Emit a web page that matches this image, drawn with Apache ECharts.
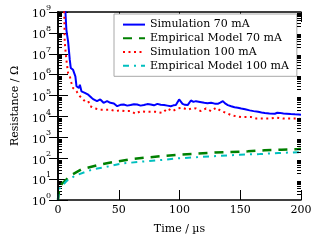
<!DOCTYPE html>
<html><head><meta charset="utf-8">
<script src="https://cdn.jsdelivr.net/npm/echarts@6/dist/echarts.min.js"></script>
<style>html,body{margin:0;padding:0;background:#fff}#c{width:320px;height:240px}</style>
</head><body><div id="c"></div>
<script>
const seriesNames = ['Simulation 70 mA', 'Empirical Model 70 mA', 'Simulation 100 mA', 'Empirical Model 100 mA'];
const xTicks = [0, 50, 100, 150, 200];
const yMajor = [1, 1e1, 1e2, 1e3, 1e4, 1e5, 1e6, 1e7, 1e8, 1e9];

const sim70Time = [5.5, 6.1, 6.9, 8.3, 9.7, 10.5, 12.4, 13.8, 14.3, 15.2, 17.2, 18, 19.3, 22.1, 24.9, 27.6, 29.3, 32.1, 34.8, 37.5, 40.4, 43.1, 46, 48.7, 51.5, 54.1, 57, 59.7, 62.5, 65.2, 68, 70.7, 73.5, 76.3, 79, 81.8, 84.5, 87.3, 90, 92.8, 95, 97, 99.7, 102.5, 104.5, 106.7, 109.4, 111.5, 113.5, 115, 118, 120.4, 123, 126, 129, 131.5, 133.5, 135.7, 137.5, 139.8, 142.5, 145.3, 148, 150.8, 154, 157.7, 161, 164.7, 167.5, 170.2, 174, 178.5, 180.5, 182.6, 185.5, 188.2, 191.5, 195, 198, 200];
const sim70Value = [2e9, 1e9, 1.4e8, 3.9e7, 5.1e6, 2.1e6, 1.7e6, 2.1e6, 8.3e5, 2.8e5, 2.3e5, 3.3e5, 1.6e5, 1.35e5, 1.1e5, 7.8e4, 6.5e4, 5.4e4, 6.5e4, 4.5e4, 5.4e4, 4.5e4, 4.2e4, 3.1e4, 3.6e4, 3.7e4, 3.3e4, 3.5e4, 3.8e4, 3.7e4, 3.3e4, 3.5e4, 3.9e4, 3.7e4, 3.4e4, 4.0e4, 3.6e4, 3.5e4, 3.3e4, 3.1e4, 3.4e4, 3.5e4, 6.5e4, 4.0e4, 3.6e4, 3.5e4, 5.8e4, 5.0e4, 5.4e4, 4.5e4, 4.8e4, 4.5e4, 4.3e4, 4.5e4, 4.1e4, 4.0e4, 4.6e4, 5.4e4, 4.2e4, 3.5e4, 3.1e4, 2.75e4, 2.6e4, 2.4e4, 2.2e4, 1.95e4, 1.8e4, 1.66e4, 1.55e4, 1.48e4, 1.4e4, 1.35e4, 1.5e4, 1.48e4, 1.38e4, 1.35e4, 1.3e4, 1.26e4, 1.25e4, 1.22e4];

const sim100Time = [4.8, 5.2, 5.5, 6.1, 6.9, 8.3, 9.7, 11.1, 12.4, 15.2, 18, 22.1, 24.9, 26.5, 30.6, 34.8, 38.9, 43.1, 47.2, 51.4, 55.5, 59.7, 63.8, 68, 72.1, 76.3, 80.4, 86, 90.1, 94.2, 98.4, 102.5, 106.7, 110.8, 113.5, 117.7, 121.8, 126, 130.1, 134.3, 138.4, 142.6, 146.7, 150.8, 155, 159.1, 163.3, 168.8, 174.3, 179.9, 185.4, 190.9, 196.4, 200];
const sim100Value = [2e9, 7e8, 4e7, 1.55e7, 5.1e6, 1.2e6, 8.3e5, 4e5, 2.3e5, 1.6e5, 9.3e4, 5.4e4, 5.4e4, 3.1e4, 2.4e4, 2.1e4, 2.1e4, 2.1e4, 1.8e4, 1.95e4, 1.8e4, 1.8e4, 1.35e4, 1.8e4, 1.66e4, 1.66e4, 1.66e4, 1.48e4, 2.4e4, 1.8e4, 2.4e4, 2.6e4, 2.1e4, 2.5e4, 2.4e4, 1.8e4, 2.4e4, 1.8e4, 2.6e4, 1.8e4, 1.48e4, 1.15e4, 1.02e4, 9.3e3, 9.3e3, 9.3e3, 7.9e3, 7.9e3, 7.9e3, 8.7e3, 7.9e3, 7.9e3, 7.9e3, 7.6e3];

const emp70Time = [0, 0.8, 1.7, 4.4, 7.2, 9.9, 19.6, 33.4, 45.8, 59.7, 72.1, 87.3, 99.7, 115, 128.8, 142.6, 156.4, 170.2, 184, 197.9, 200];
const emp70Value = [1, 2.75, 4.8, 7, 10, 14.5, 30, 48, 66, 89, 107, 129, 148, 166, 186, 200, 214, 240, 257, 275, 278];

const emp100Time = [0, 0.8, 7.2, 14, 22.4, 29.3, 37.5, 52.8, 69.4, 86, 99.7, 117.7, 132.9, 149.5, 166, 181.3, 197.9, 200];
const emp100Value = [1, 3.3, 8.3, 14.5, 22, 30, 36, 56, 69, 83, 100, 115, 129, 148, 158, 178, 195, 197];

const yMinor = [];
for (let e = 0; e < 9; e++) for (let m = 2; m <= 9; m++) yMinor.push(m * Math.pow(10, e));

const pairs = (t, v) => t.map((x, i) => [x, v[i]]);
const FONT = 'DejaVu Serif';

const chart = echarts.init(document.getElementById('c'), null, {renderer: 'canvas'});
const gridRect = {left: 58, right: 19, top: 12, bottom: 39};
const axisLine = {show: true, lineStyle: {color: '#000', width: 1.6}};
chart.setOption({
  animation: false,
  backgroundColor: '#fff',
  grid: [Object.assign({}, gridRect), Object.assign({}, gridRect)],
  legend: {
    left: 114, top: 14, orient: 'vertical',
    data: seriesNames,
    itemWidth: 22, itemHeight: 14, itemGap: 2.5,
    padding: [5, 8, 5, 8],
    backgroundColor: '#fff', borderColor: '#a8a8a8', borderWidth: 1,
    borderRadius: 0,
    itemStyle: {opacity: 0},
    textStyle: {fontFamily: FONT, fontSize: 11, color: '#000'}
  },
  xAxis: [
    {type: 'value', gridIndex: 0, position: 'bottom', min: 0, max: 200, interval: 50,
     name: 'Time / µs', nameLocation: 'middle', nameGap: 24,
     nameTextStyle: {fontFamily: FONT, fontSize: 11, color: '#000'},
     axisLine: axisLine, splitLine: {show: false},
     axisTick: {inside: true, length: 10, lineStyle: {color: '#000', width: 1}},
     axisLabel: {fontFamily: FONT, fontSize: 11, color: '#000', margin: 5,
       customValues: xTicks}},
    {type: 'value', gridIndex: 0, position: 'top', min: 0, max: 200, interval: 50,
     axisLine: axisLine, splitLine: {show: false},
     axisTick: {inside: true, length: 10, lineStyle: {color: '#000', width: 1}},
     axisLabel: {show: false}},
    {type: 'value', gridIndex: 1, min: 0, max: 200, show: false}
  ],
  yAxis: [
    {type: 'log', gridIndex: 0, position: 'left', min: 1, max: 1e9, logBase: 10,
     name: 'Resistance / Ω', nameLocation: 'middle', nameGap: 33, nameRotate: 90,
     nameTextStyle: {fontFamily: FONT, fontSize: 11, color: '#000'},
     axisLine: axisLine, splitLine: {show: false},
     axisTick: {inside: true, length: 10, customValues: yMajor, lineStyle: {color: '#000', width: 1}},
     axisLabel: {margin: 7, customValues: yMajor,
       formatter: v => '{b|10}{s|' + Math.round(Math.log10(v)) + '}',
       rich: {
         b: {fontFamily: FONT, fontSize: 11, color: '#000', lineHeight: 16, verticalAlign: 'bottom'},
         s: {fontFamily: FONT, fontSize: 8, color: '#000', lineHeight: 10, verticalAlign: 'top'}
       }}},
    {type: 'log', gridIndex: 0, position: 'right', min: 1, max: 1e9, logBase: 10, z: 10,
     axisLine: axisLine, splitLine: {show: false},
     axisTick: {inside: true, length: 9, customValues: yMajor, lineStyle: {color: '#000', width: 1}},
     axisLabel: {show: false}},
    {type: 'log', gridIndex: 1, position: 'left', min: 1, max: 1e9, logBase: 10,
     axisLine: {show: false}, splitLine: {show: false},
     axisTick: {inside: true, length: 4, customValues: yMinor, lineStyle: {color: '#000', width: 1}},
     axisLabel: {show: false}},
    {type: 'log', gridIndex: 1, position: 'right', min: 1, max: 1e9, logBase: 10, z: 10,
     axisLine: {show: false}, splitLine: {show: false},
     axisTick: {inside: true, length: 4, customValues: yMinor, lineStyle: {color: '#000', width: 1}},
     axisLabel: {show: false}}
  ],
  series: [
    {name: seriesNames[0], type: 'line', xAxisIndex: 0, yAxisIndex: 0, showSymbol: false, symbol: 'none',
     data: pairs(sim70Time, sim70Value), color: '#0000ff',
     lineStyle: {color: '#0000ff', width: 2}},
    {name: seriesNames[1], type: 'line', xAxisIndex: 0, yAxisIndex: 0, showSymbol: false, symbol: 'none',
     data: pairs(emp70Time, emp70Value), color: '#008000',
     lineStyle: {color: '#008000', width: 2.5, type: [9, 7]}},
    {name: seriesNames[2], type: 'line', xAxisIndex: 0, yAxisIndex: 0, showSymbol: false, symbol: 'none',
     data: pairs(sim100Time, sim100Value), color: '#ff0000',
     lineStyle: {color: '#ff0000', width: 2, type: [2, 3.5]}},
    {name: seriesNames[3], type: 'line', xAxisIndex: 0, yAxisIndex: 0, showSymbol: false, symbol: 'none',
     data: pairs(emp100Time, emp100Value), color: '#00bfbf',
     lineStyle: {color: '#00bfbf', width: 2, type: [6, 5, 2, 5]}}
  ]
});
</script></body></html>
